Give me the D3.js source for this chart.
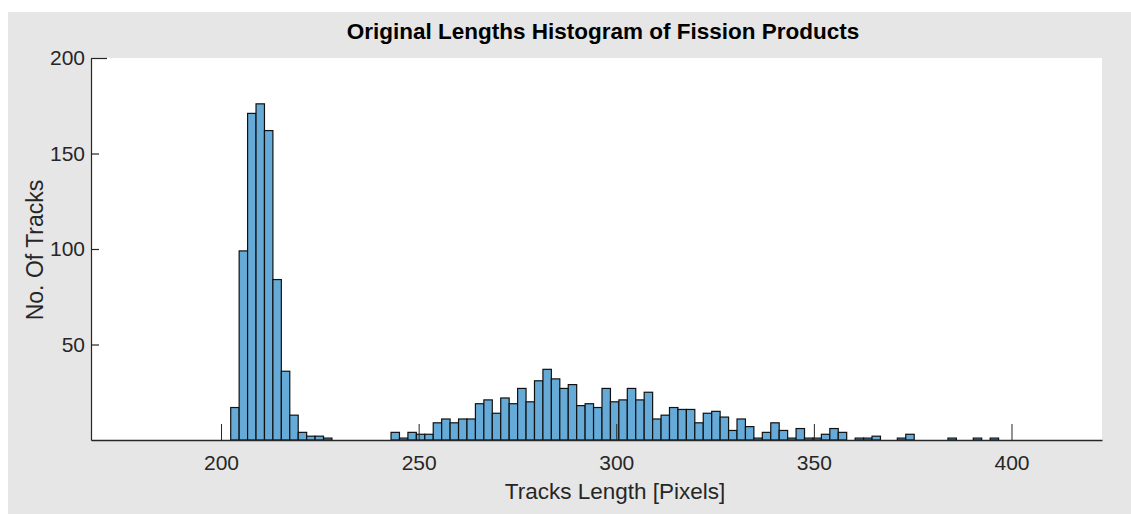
<!DOCTYPE html>
<html>
<head>
<meta charset="utf-8">
<script src="https://cdn.jsdelivr.net/npm/d3@7"></script>
<style>
  html, body { margin: 0; padding: 0; background: #ffffff; }
  svg { display: block; }
  text { font-family: "Liberation Sans", Arial, sans-serif; }
</style>
</head>
<body>
<svg id="chart" width="1131" height="514"></svg>
<script>
// Histogram of fission-product track lengths (pixels)
const binStart = 202.45;
const binWidth = 2.135;
const counts = [
  17, 99, 171, 176, 162, 84, 36, 13, 4, 2, 2, 1,
  0, 0, 0, 0, 0, 0, 0,
  4, 1, 4, 3, 3, 9, 11, 9, 11, 11, 19, 21, 14, 22, 19, 27, 20, 31, 37, 32, 27, 29, 18, 19, 17, 27, 20, 21, 27,
  21, 25, 11, 13, 17, 16, 16, 9, 14, 15, 12, 5, 11, 7, 1, 4, 9, 5, 1, 6, 1, 1, 3, 6, 4,
  0, 1, 1, 2, 0, 0, 1, 3, 0, 0, 0, 0, 1, 0, 0, 1, 0, 1
];
const xTicks = [200, 250, 300, 350, 400];
const yTicks = [50, 100, 150, 200];
const xDomain = [167.1, 422.9];
const yDomain = [0, 200];
const titleText = "Original Lengths Histogram of Fission Products";
const xLabelText = "Tracks Length [Pixels]";
const yLabelText = "No. Of Tracks";

const bins = counts.map((c, i) => ({
  x0: binStart + i * binWidth,
  x1: binStart + (i + 1) * binWidth,
  count: c
}));

const svg = d3.select("#chart");
const W = 1131, H = 514;
const plot = { left: 91, right: 1102, top: 58, bottom: 440 };

// grey figure panel
svg.append("rect")
  .attr("x", 8).attr("y", 12)
  .attr("width", W - 8).attr("height", H - 12)
  .attr("fill", "#e6e6e6");

// white axes area
svg.append("rect")
  .attr("x", plot.left).attr("y", plot.top)
  .attr("width", plot.right - plot.left).attr("height", plot.bottom - plot.top)
  .attr("fill", "#ffffff");

const x = d3.scaleLinear().domain(xDomain).range([plot.left, plot.right]);
const y = d3.scaleLinear().domain(yDomain).range([plot.bottom, plot.top]);

// bars
svg.append("g")
  .selectAll("rect")
  .data(bins.filter(d => d.count > 0))
  .join("rect")
  .attr("x", d => x(d.x0))
  .attr("y", d => y(d.count))
  .attr("width", d => x(d.x1) - x(d.x0))
  .attr("height", d => y(0) - y(d.count))
  .attr("fill", "#66aad7")
  .attr("stroke", "#111111")
  .attr("stroke-width", 1.2);

// x axis: ticks pointing up into the plot
const xAxis = d3.axisBottom(x)
  .tickValues(xTicks)
  .tickSize(-16)
  .tickSizeOuter(0)
  .tickPadding(30);
const gx = svg.append("g")
  .attr("transform", `translate(0,${plot.bottom})`)
  .call(xAxis);
gx.select(".domain").attr("stroke", "#262626").attr("stroke-width", 1.6);
gx.selectAll(".tick line").attr("stroke", "#262626").attr("stroke-width", 1);
gx.selectAll(".tick text")
  .attr("fill", "#262626")
  .attr("font-size", 21)
  .attr("dy", 0);

// y axis: ticks pointing right into the plot
const yAxis = d3.axisLeft(y)
  .tickValues(yTicks)
  .tickSize(-8)
  .tickSizeOuter(0)
  .tickPadding(6);
const gy = svg.append("g")
  .attr("transform", `translate(${plot.left},0)`)
  .call(yAxis);
gy.select(".domain").attr("stroke", "#262626").attr("stroke-width", 1.2);
gy.selectAll(".tick line").attr("stroke", "#262626").attr("stroke-width", 1.2);
gy.selectAll(".tick text")
  .attr("fill", "#262626")
  .attr("font-size", 21);
// top tick drawn longer
gy.selectAll(".tick line").filter(d => d === 200).attr("x2", 16);

// title
svg.append("text")
  .attr("x", 603).attr("y", 39)
  .attr("text-anchor", "middle")
  .attr("font-size", 22.5)
  .attr("font-weight", "bold")
  .attr("fill", "#000000")
  .text(titleText);

// axis labels
svg.append("text")
  .attr("x", 615).attr("y", 499)
  .attr("text-anchor", "middle")
  .attr("font-size", 22.5)
  .attr("fill", "#262626")
  .text(xLabelText);

svg.append("text")
  .attr("transform", `translate(43,250) rotate(-90)`)
  .attr("text-anchor", "middle")
  .attr("font-size", 23)
  .attr("fill", "#262626")
  .text(yLabelText);
</script>
</body>
</html>
